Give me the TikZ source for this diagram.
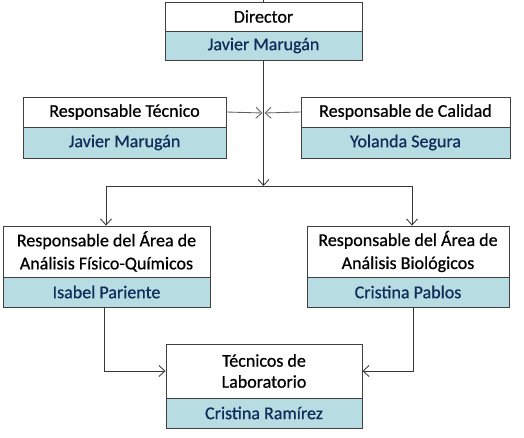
\documentclass[tikz,border=0pt]{standalone}
\usepackage{fontspec}
\setmainfont{Carlito}
\newfontfamily\boxfont{Carlito}[FakeBold=0.7]
\usetikzlibrary{arrows.meta}
\definecolor{tealfill}{RGB}{183,221,226}
\definecolor{navy}{RGB}{18,44,92}
\definecolor{boxline}{RGB}{64,64,64}
\definecolor{conn}{RGB}{55,55,55}
\definecolor{connlight}{RGB}{95,95,95}
\begin{document}
\begin{tikzpicture}[x=1pt,y=-1pt,
  titlebox/.style={draw=boxline, fill=white, line width=0.9pt, inner sep=0pt, align=center,
    font=\boxfont\fontsize{18}{23}\selectfont, text=black},
  namebox/.style={draw=boxline, fill=tealfill, line width=0.9pt, inner sep=0pt, align=center,
    font=\boxfont\fontsize{18}{23}\selectfont, text=navy},
  link/.style={draw=conn, line width=0.85pt},
  arr/.style={link, -{Straight Barb[length=6pt,width=11pt,line width=0.85pt]}}]
\useasboundingbox (0,0) rectangle (524,437);
% Director
\node[titlebox, minimum width=197, minimum height=29] (dirT) at (263.5,16.5) {Director};
\node[namebox, minimum width=197, minimum height=29] (dirN) at (263.5,45.5) {Javier Marugán};
% Responsable Tecnico
\node[titlebox, minimum width=203, minimum height=30] (tecT) at (124.5,112) {Responsable Técnico};
\node[namebox, minimum width=203, minimum height=31] (tecN) at (124.5,142.5) {Javier Marugán};
% Responsable de Calidad
\node[titlebox, minimum width=209, minimum height=30] (calT) at (405.5,112) {Responsable de Calidad};
\node[namebox, minimum width=209, minimum height=31] (calN) at (405.5,142.5) {Yolanda Segura};
% FQ
\node[titlebox, minimum width=207, minimum height=51] (fqT) at (106.5,251.5) {Responsable del Área de\\Análisis Físico-Químicos};
\node[namebox, minimum width=207, minimum height=30] (fqN) at (106.5,292) {Isabel Pariente};
% Bio
\node[titlebox, minimum width=202, minimum height=51] (bioT) at (408,251.5) {Responsable del Área de\\Análisis Biológicos};
\node[namebox, minimum width=202, minimum height=30] (bioN) at (408,292) {Cristina Pablos};
% Lab
\node[titlebox, minimum width=196, minimum height=54, font=\boxfont\fontsize{18}{21}\selectfont] (labT) at (264,371) {Técnicos de\\Laboratorio};
\node[namebox, minimum width=196, minimum height=30] (labN) at (264,413) {Cristina Ramírez};
% coordinates
\coordinate (topend) at (263.5,0);
\coordinate (midl) at (262.5,113);
\coordinate (midr) at (264.5,113);
\coordinate (junc) at (263.5,186);
\coordinate (jl) at (106,186);
\coordinate (jr) at (412,186);
% connectors
\draw[link] (topend) -- (dirT.north);
\draw[arr] (dirN.south) -- (junc);
\draw[arr, draw=connlight] (tecT.east) -- (midl);
\draw[arr, draw=connlight] (calT.west) -- (midr);
\draw[link] (jl) -- (jr);
\draw[arr] (jl) -- (jl |- fqT.north);
\draw[arr] (jr) -- (jr |- bioT.north);
\draw[arr] (fqN.south -| 104,0) |- (labT.west);
\draw[arr] (bioN.south -| 413,0) |- (labT.east);
\end{tikzpicture}
\end{document}
